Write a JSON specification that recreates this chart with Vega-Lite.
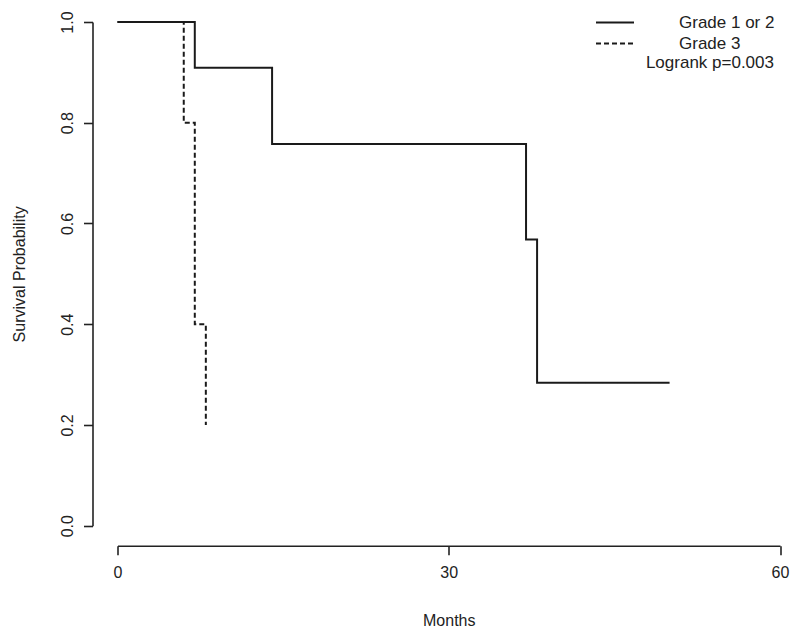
{
  "$schema": "https://vega.github.io/schema/vega-lite/v6.json",
  "autosize": "none",
  "width": 662.5,
  "height": 503.7,
  "padding": {"left": 117.5, "top": 22, "right": 20, "bottom": 111.3},
  "background": "white",
  "config": {
    "view": {"stroke": null},
    "font": "Liberation Sans",
    "axis": {
      "grid": false,
      "domainColor": "#222",
      "domainWidth": 1.6,
      "tickColor": "#222",
      "tickWidth": 1.6,
      "tickSize": 9,
      "labelFont": "Liberation Sans",
      "labelFontSize": 16,
      "labelColor": "#222",
      "titleFont": "Liberation Sans",
      "titleFontSize": 16,
      "titleFontWeight": "normal",
      "titleColor": "#222"
    }
  },
  "data": {
    "values": [
      {"months": 0, "surv": 1.0, "group": "Grade 1 or 2"},
      {"months": 7, "surv": 0.909, "group": "Grade 1 or 2"},
      {"months": 14, "surv": 0.758, "group": "Grade 1 or 2"},
      {"months": 37, "surv": 0.568, "group": "Grade 1 or 2"},
      {"months": 38, "surv": 0.284, "group": "Grade 1 or 2"},
      {"months": 50, "surv": 0.284, "group": "Grade 1 or 2"},
      {"months": 0, "surv": 1.0, "group": "Grade 3"},
      {"months": 6, "surv": 0.8, "group": "Grade 3"},
      {"months": 7, "surv": 0.4, "group": "Grade 3"},
      {"months": 8, "surv": 0.2, "group": "Grade 3"}
    ]
  },
  "mark": {"type": "line", "interpolate": "step-after", "strokeWidth": 2, "color": "#1a1a1a"},
  "encoding": {
    "x": {
      "field": "months",
      "type": "quantitative",
      "scale": {"domain": [0, 60], "nice": false, "zero": false},
      "axis": {
        "values": [0, 30, 60],
        "title": "Months",
        "offset": 20,
        "labelPadding": 10,
        "titlePadding": 32,
        "labelFlush": false
      }
    },
    "y": {
      "field": "surv",
      "type": "quantitative",
      "scale": {"domain": [0, 1], "nice": false},
      "axis": {
        "values": [0, 0.2, 0.4, 0.6, 0.8, 1.0],
        "format": ".1f",
        "title": "Survival Probability",
        "offset": 25,
        "labelAngle": -90,
        "labelAlign": "center",
        "labelBaseline": "middle",
        "labelPadding": 16,
        "labelFlush": false,
        "titleX": -73,
        "titleBaseline": "middle"
      }
    },
    "strokeDash": {
      "field": "group",
      "type": "nominal",
      "scale": {"domain": ["Grade 1 or 2", "Grade 3"], "range": [[1, 0], [5, 3]]},
      "legend": {
        "title": "Logrank p=0.003",
        "orient": "none",
        "legendX": 477.5,
        "legendY": -10,
        "padding": 0,
        "titleOrient": "bottom",
        "titleAnchor": "end",
        "titleFontSize": 17,
        "titleFontWeight": "normal",
        "titleColor": "#222",
        "titlePadding": 1,
        "labelFontSize": 17,
        "labelColor": "#222",
        "labelOffset": 44,
        "symbolType": "stroke",
        "symbolSize": 1444,
        "symbolStrokeWidth": 2,
        "symbolStrokeColor": "#1a1a1a",
        "clipHeight": 21,
        "rowPadding": 0
      }
    }
  }
}
